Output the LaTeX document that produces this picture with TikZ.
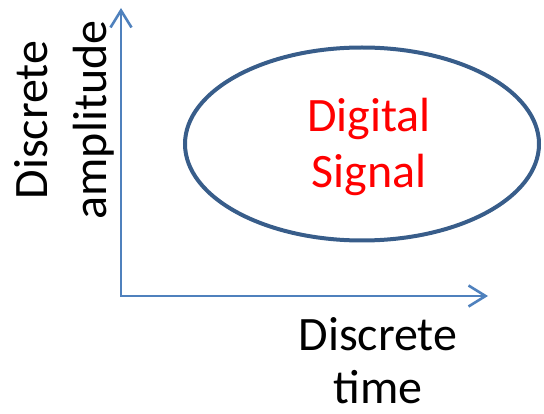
\documentclass[tikz,border=0pt]{standalone}
\usepackage{fontspec}
\setmainfont{Carlito}
\usetikzlibrary{shapes.geometric,arrows.meta}
\definecolor{axisblue}{HTML}{4F81BD}
\definecolor{ellblue}{HTML}{385D8A}
\tikzset{
  axis/.style={draw=axisblue, line width=2.6pt, {Straight Barb[length=17pt,width=21pt]}-{Straight Barb[length=17pt,width=21pt]}, line join=miter},
  sigell/.style={ellipse, draw=ellblue, line width=4pt, minimum width=354pt, minimum height=193pt, inner sep=0pt},
  lbl/.style={inner sep=0pt, anchor=base, font=\fontsize{48}{58}\selectfont}
}
\begin{document}
\begin{tikzpicture}[x=1pt,y=-1pt]
\useasboundingbox (0,0) rectangle (544,414);
\coordinate (ytip) at (121,8);
\coordinate (orig) at (121,296);
\coordinate (xtip) at (488,296);
\draw[axis] (ytip) -- (orig) -- (xtip);
\node[sigell] (sig) at (362,144) {};
\node[lbl, text=red] (dig) at (369,188) {\begin{tabular}[b]{@{}c@{}}Digital\\[-2pt]Signal\end{tabular}};
\node[lbl] (tlab) at (378,403) {\begin{tabular}[b]{@{}c@{}}Discrete\\[-5pt]time\end{tabular}};
\node[lbl, rotate=90] (alab) at (106,120) {\begin{tabular}[b]{@{}c@{}}Discrete\\[1pt]amplitude\end{tabular}};
\end{tikzpicture}
\end{document}
